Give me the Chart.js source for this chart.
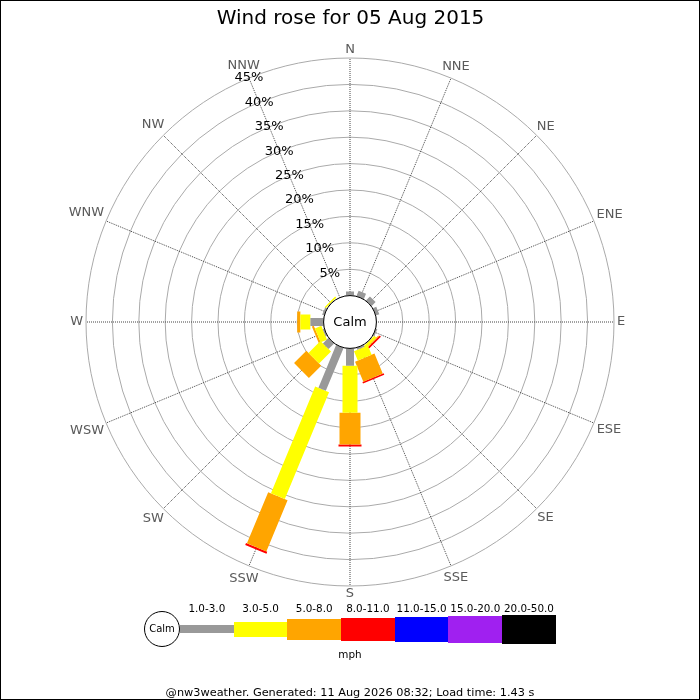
<!DOCTYPE html>
<html>
<head>
<meta charset="utf-8">
<title>Wind rose for 05 Aug 2015</title>
<script src="https://cdn.jsdelivr.net/npm/chart.js@4.4.0/dist/chart.umd.min.js"></script>
<style>
  body { margin: 0; background: #fff; font-family: "DejaVu Sans", sans-serif; color: #000; }
  #wrap { position: relative; width: 700px; height: 700px; box-sizing: border-box; border: 1px solid #000; overflow: hidden; }
  #rose { position: absolute; left: -1px; top: -1px; }
  #calmKey { position: absolute; left: 143px; top: 610px; width: 36px; height: 36px; box-sizing: border-box;
             border: 1px solid #000; border-radius: 50%; background: #fff; font-size: 10px; line-height: 34px; text-align: center; }
  #bands { position: absolute; left: 179px; top: 610px; height: 36px; display: flex; }
  .band { position: relative; width: 53.7px; height: 36px; display: flex; align-items: center; }
  .band .bar { width: 100%; }
  .band span { position: absolute; left: -12px; right: -12px; top: -9px; text-align: center; font-size: 10.4px; line-height: 12px; }
  #unit { position: absolute; left: 0; width: 698px; top: 646px; text-align: center; font-size: 10.4px; line-height: 14px; }
  #footer { position: absolute; left: 0; width: 698px; top: 685px; text-align: center; font-size: 11.3px; line-height: 14px; }
</style>
</head>
<body>
<div id="wrap">
  <canvas id="rose" width="700" height="700"></canvas>
  <div id="calmKey">Calm</div>
  <div id="bands"></div>
  <div id="unit">mph</div>
  <div id="footer">@nw3weather. Generated: 11 Aug 2026 08:32; Load time: 1.43 s</div>
</div>
<script>
// directions, clockwise from north
const directions = ['N', 'NNE', 'NE', 'ENE', 'E', 'ESE', 'SE', 'SSE', 'S', 'SSW', 'SW', 'WSW', 'W', 'WNW', 'NW', 'NNW'];
const speedBands = ['1.0-3.0', '3.0-5.0', '5.0-8.0', '8.0-11.0', '11.0-15.0', '15.0-20.0', '20.0-50.0'];

// % of the day from each direction, per speed band (mph)
const band1to3   = [0.8, 1.1, 1.1, 0.7, 0, 0.3, 0.1, 0.4, 3.3, 8.8, 1.5, 0.3, 2.5, 0.4, 0.1, 0];
const band3to5   = [0, 0, 0, 0, 0, 0, 0.5, 1.9, 8.9, 21.9, 3.2, 1.3, 1.9, 0, 0.3, 0];
const band5to8   = [0, 0, 0, 0, 0, 0, 0.2, 4.1, 6.0, 10.5, 3.3, 0.4, 0.6, 0, 0, 0];
const band8to11  = [0, 0, 0, 0, 0, 0, 0.3, 0.3, 0.4, 0.4, 0, 0, 0, 0, 0, 0];
const band11to15 = [0, 0, 0, 0, 0, 0, 0, 0, 0, 0, 0, 0, 0, 0, 0, 0];
const band15to20 = [0, 0, 0, 0, 0, 0, 0, 0, 0, 0, 0, 0, 0, 0, 0, 0];
const band20to50 = [0, 0, 0, 0, 0, 0, 0, 0, 0, 0, 0, 0, 0, 0, 0, 0];

const tickValues = [5, 10, 15, 20, 25, 30, 35, 40, 45];
const tickLabels = ['5%', '10%', '15%', '20%', '25%', '30%', '35%', '40%', '45%'];

// styles
const bandColors = ['#999999', '#ffff00', '#ffa500', '#ff0000', '#0000ff', '#a020f0', '#000000'];
const bandWidths = [8, 15, 21, 23, 25, 27, 29];
const calmSize = 5;   // calm circle radius, in % units (r scale starts at -calmSize)
const rMax = 45;

const series = [band1to3, band3to5, band5to8, band8to11, band11to15, band15to20, band20to50];

// stack the bands outward from the calm circle, one line segment per direction
const cumul = directions.map(() => 0);
const bandSets = series.map((values, b) => {
    const pts = [];
    values.forEach((v, i) => {
        if (v <= 0) return;
        const a = i * 2 * Math.PI / directions.length;
        const d0 = calmSize + cumul[i];
        const d1 = d0 + v;
        cumul[i] += v;
        pts.push({x: d0 * Math.sin(a), y: d0 * Math.cos(a)});
        pts.push({x: d1 * Math.sin(a), y: d1 * Math.cos(a)});
        pts.push({x: null, y: null});
    });
    return {
        label: speedBands[b],
        data: pts,
        showLine: true,
        spanGaps: false,
        borderColor: bandColors[b],
        backgroundColor: bandColors[b],
        borderWidth: bandWidths[b],
        borderCapStyle: 'butt',
        borderJoinStyle: 'bevel',
        // one long dash = solid, but keeps Chart.js off its fast path,
        // which squashes short segments that share a pixel column
        borderDash: [100000],
        pointRadius: 0,
        order: 1
    };
});

const calmSet = {
    label: 'Calm',
    data: [{x: 0, y: 0}],
    showLine: false,
    pointRadius: ctx => ctx.chart.scales.r.getDistanceFromCenterForValue(0),
    pointBackgroundColor: '#ffffff',
    pointBorderColor: '#000000',
    pointBorderWidth: 1,
    order: 0
};

// x/y are laid over the polar scale so the bars share its centre and units
const roseHelper = {
    id: 'roseHelper',
    afterLayout(chart) {
        const r = chart.scales.r, x = chart.scales.x, y = chart.scales.y;
        const k = r.drawingArea / (r.max - r.min);
        x.min = (x.left - r.xCenter) / k;
        x.max = (x.right - r.xCenter) / k;
        y.min = (r.yCenter - y.bottom) / k;
        y.max = (r.yCenter - y.top) / k;
        x.configure();
        y.configure();
    },
    afterDatasetsDraw(chart) {
        const r = chart.scales.r, ctx = chart.ctx;
        ctx.save();
        ctx.font = '13px "DejaVu Sans"';
        ctx.textAlign = 'center';
        ctx.textBaseline = 'middle';
        // compass labels: text box kept 3px clear of the outer ring
        ctx.fillStyle = '#5a5a5a';
        directions.forEach((d, i) => {
            const a = i * 2 * Math.PI / directions.length;
            const half = ctx.measureText(d).width / 2;
            const gap = 3 + half * Math.abs(Math.sin(a)) + 5 * Math.abs(Math.cos(a));
            const p = r.getPointPosition(i, r.drawingArea + gap);
            ctx.fillText(d, p.x, p.y);
        });
        // percentage labels along the NNW spoke
        ctx.fillStyle = '#000000';
        tickValues.forEach((v, i) => {
            const p = r.getPointPosition(directions.length - 1, r.getDistanceFromCenterForValue(v));
            ctx.fillText(tickLabels[i], p.x, p.y);
        });
        const calm = chart.getDatasetMeta(chart.data.datasets.length - 1).data[0];
        ctx.fillText('Calm', calm.x, calm.y + 1);
        ctx.restore();
    }
};

new Chart(document.getElementById('rose'), {
    type: 'scatter',
    data: {
        labels: directions,
        datasets: [...bandSets, calmSet]
    },
    options: {
        responsive: false,
        animation: false,
        events: [],
        layout: { padding: { left: 86, right: 85, top: 0, bottom: 113 } },
        plugins: {
            legend: { display: false },
            tooltip: { enabled: false },
            title: {
                display: true,
                text: 'Wind rose for 05 Aug 2015',
                color: '#000',
                font: { family: 'DejaVu Sans', size: 20, weight: 'normal' },
                padding: { top: 7, bottom: 27 }
            }
        },
        scales: {
            x: { type: 'linear', display: false },
            y: { type: 'linear', display: false },
            r: {
                type: 'radialLinear',
                min: -calmSize,
                max: rMax,
                ticks: { display: false, stepSize: 5 },
                grid: { color: '#aaaaaa', lineWidth: 1, circular: true },
                angleLines: { color: '#444444', lineWidth: 1, borderDash: [1, 1] },
                pointLabels: { display: false }
            }
        }
    },
    plugins: [roseHelper]
});

// legend strip under the rose
const bandsBox = document.getElementById('bands');
speedBands.forEach((name, b) => {
    const cell = document.createElement('div');
    cell.className = 'band';
    const bar = document.createElement('div');
    bar.className = 'bar';
    bar.style.height = bandWidths[b] + 'px';
    bar.style.background = bandColors[b];
    const txt = document.createElement('span');
    txt.textContent = name;
    cell.appendChild(bar);
    cell.appendChild(txt);
    bandsBox.appendChild(cell);
});
</script>
</body>
</html>
